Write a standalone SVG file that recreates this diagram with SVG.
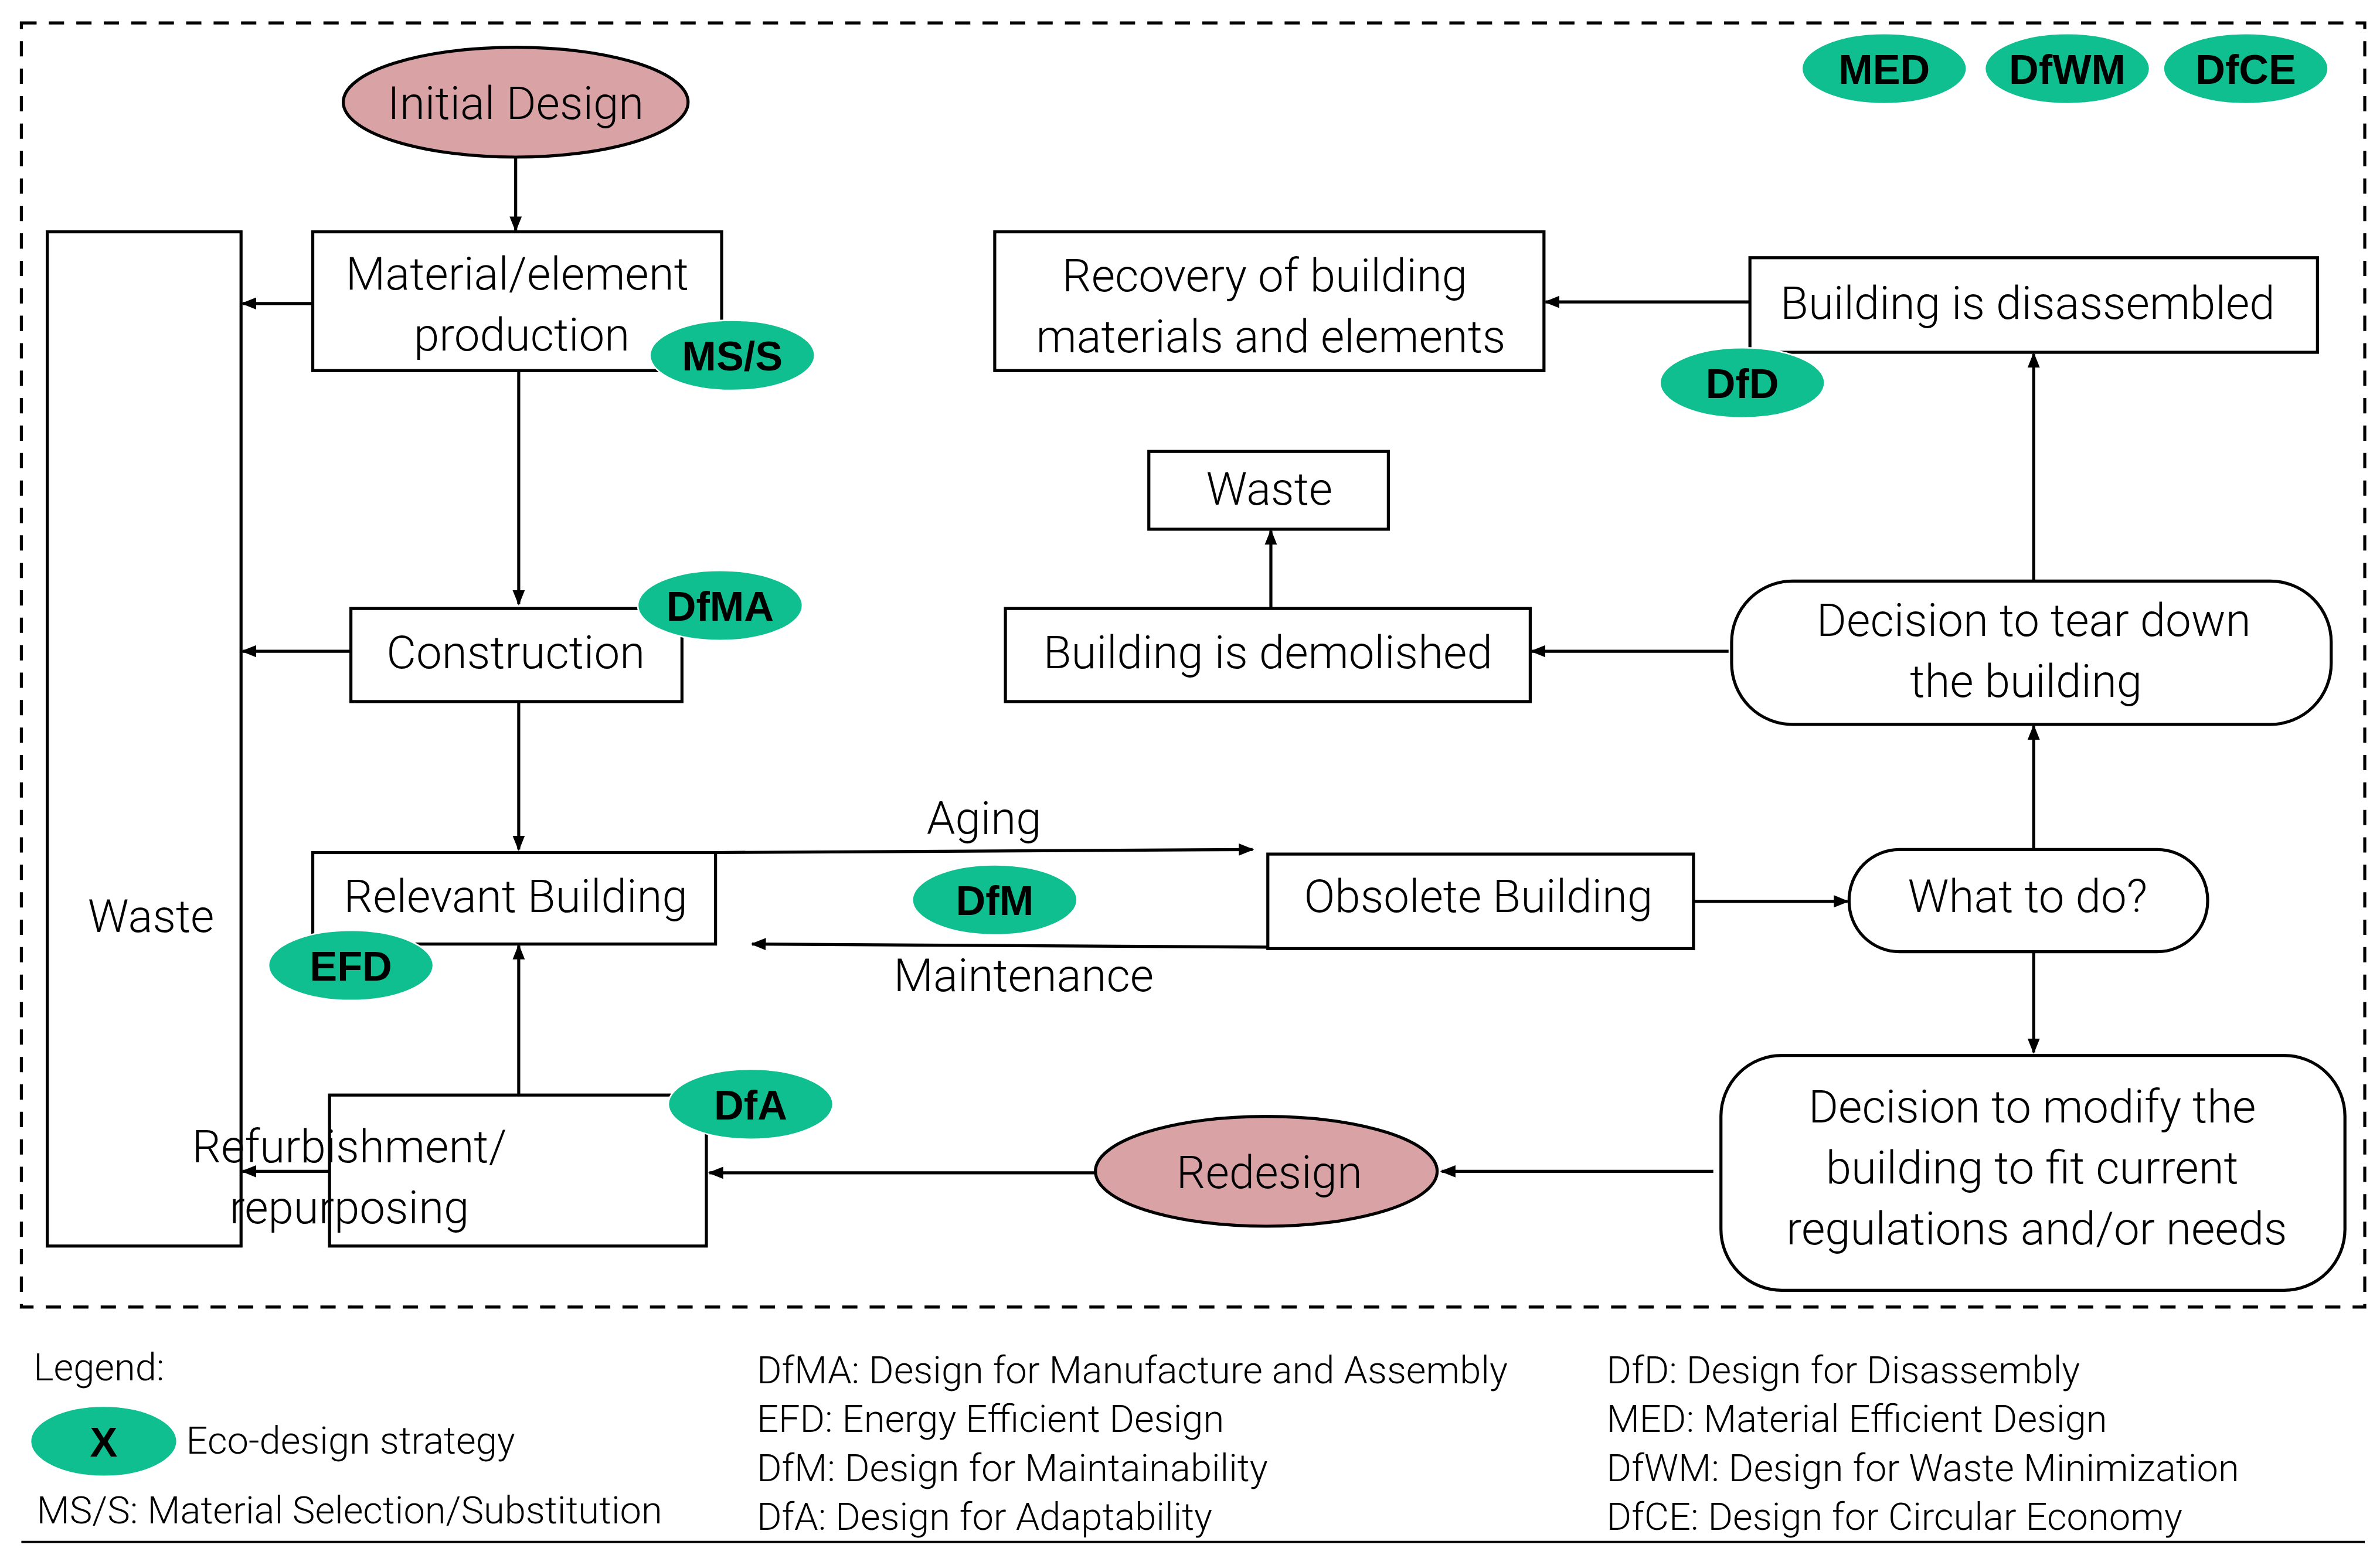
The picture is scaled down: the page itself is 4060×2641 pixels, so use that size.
<svg xmlns="http://www.w3.org/2000/svg" width="4060" height="2641" viewBox="0 0 4060 2641">
<defs>
<marker id="ah" markerWidth="10" markerHeight="10" refX="9" refY="5" orient="auto" markerUnits="userSpaceOnUse"><path d="M0,1 L10,5 L0,9 z" fill="#000"/></marker>
<style>
.b{fill:#fff;stroke:#000;stroke-width:2}
.t{font-family:Roboto,"Liberation Sans",sans-serif;font-size:30px;fill:#000;text-anchor:middle;font-weight:300}
.g{fill:#0fbf8f;stroke:#fff;stroke-width:1}
.gt{font-family:"Liberation Sans",Arial,sans-serif;font-weight:bold;font-size:27px;fill:#000;text-anchor:middle}
.p{fill:#d9a3a6;stroke:#000;stroke-width:2}
.l{font-family:Roboto,"Liberation Sans",sans-serif;font-size:25px;fill:#000;font-weight:300}
.c{stroke:#000;stroke-width:2;fill:none;marker-end:url(#ah)}
</style>
</defs>
<rect width="4060" height="2641" fill="#fff"/>
<g transform="scale(2.6026,2.602)">
<rect x="14" y="15" width="1536" height="842" fill="none" stroke="#000" stroke-width="2" stroke-dasharray="10,8"/>
<g id="initial"><ellipse class="p" cx="338" cy="67" rx="113" ry="36"/><text class="t" x="338" y="78">Initial Design</text></g>
<g id="material"><rect class="b" x="205" y="152" width="268" height="91"/><text class="t" x="339" y="190">Material/element</text><text class="t" x="342" y="230">production</text></g>
<g id="mss"><ellipse class="g" cx="480" cy="233" rx="54" ry="23"/><text class="gt" x="480" y="243">MS/S</text></g>
<g id="waste"><rect class="b" x="31" y="152" width="127" height="665"/><text class="t" x="99" y="611">Waste</text></g>
<g id="construction"><rect class="b" x="230" y="399" width="217" height="61"/><text class="t" x="338" y="438">Construction</text></g>
<g id="dfma"><ellipse class="g" cx="472" cy="397" rx="54" ry="23"/><text class="gt" x="472" y="407">DfMA</text></g>
<g id="relevant"><rect class="b" x="205" y="559" width="264" height="60"/><text class="t" x="338" y="598">Relevant Building</text></g>
<g id="efd"><ellipse class="g" cx="230" cy="633" rx="54" ry="23"/><text class="gt" x="230" y="643">EFD</text></g>
<g id="refurb"><rect class="b" x="216" y="718" width="247" height="99"/><text class="t" x="229" y="762" text-anchor="start">Refurbishment/</text><text class="t" x="229" y="802" text-anchor="start">repurposing</text></g>
<g id="dfa"><ellipse class="g" cx="492" cy="724" rx="54" ry="23"/><text class="gt" x="492" y="734">DfA</text></g>
<g id="redesign"><ellipse class="p" cx="830" cy="768" rx="112" ry="36"/><text class="t" x="832" y="779">Redesign</text></g>
<g id="modify"><rect class="b" x="1128" y="692" width="409" height="154" rx="40"/><text class="t" x="1332" y="736">Decision to modify the</text><text class="t" x="1332" y="776">building to fit current</text><text class="t" x="1335" y="816">regulations and/or needs</text></g>
<g id="whattodo"><rect class="b" x="1212" y="557" width="235" height="67" rx="33"/><text class="t" x="1329" y="598">What to do?</text></g>
<g id="obsolete"><rect class="b" x="831" y="560" width="279" height="62"/><text class="t" x="969" y="598">Obsolete Building</text></g>
<g id="dfm"><ellipse class="g" cx="652" cy="590" rx="54" ry="23"/><text class="gt" x="652" y="600">DfM</text></g>
<g id="teardown"><rect class="b" x="1135" y="381" width="393" height="94" rx="40"/><text class="t" x="1333" y="417">Decision to tear down</text><text class="t" x="1328" y="457">the building</text></g>
<g id="demolished"><rect class="b" x="659" y="399" width="344" height="61"/><text class="t" x="831" y="438">Building is demolished</text></g>
<g id="waste2"><rect class="b" x="753" y="296" width="157" height="51"/><text class="t" x="832" y="331">Waste</text></g>
<g id="disassembled"><rect class="b" x="1147" y="169" width="372" height="62"/><text class="t" x="1329" y="209">Building is disassembled</text></g>
<g id="dfd"><ellipse class="g" cx="1142" cy="251" rx="54" ry="23"/><text class="gt" x="1142" y="261">DfD</text></g>
<g id="recovery"><rect class="b" x="652" y="152" width="360" height="91"/><text class="t" x="829" y="191">Recovery of building</text><text class="t" x="833" y="231">materials and elements</text></g>
<g id="med"><ellipse class="g" cx="1235" cy="45" rx="54" ry="23"/><text class="gt" x="1235" y="55">MED</text></g>
<g id="dfwm"><ellipse class="g" cx="1355" cy="45" rx="54" ry="23"/><text class="gt" x="1355" y="55">DfWM</text></g>
<g id="dfce"><ellipse class="g" cx="1472" cy="45" rx="54" ry="23"/><text class="gt" x="1472" y="55">DfCE</text></g>
<g id="connectors">
<path class="c" d="M338,103 V151"/>
<path class="c" d="M340,243 V396"/>
<path class="c" d="M340,460 V557"/>
<path class="c" d="M340,718 V620"/>
<path class="c" d="M718,769 H465"/>
<path class="c" d="M1123,768 H945"/>
<path class="c" d="M205,199 H159"/>
<path class="c" d="M230,427 H159"/>
<path class="c" d="M216,768 H159"/>
<path class="c" d="M469,559 L821,557"/>
<path class="c" d="M831,621 L493,619"/>
<path class="c" d="M1110,591 H1211"/>
<path class="c" d="M1333,557 V476"/>
<path class="c" d="M1333,624 V690"/>
<path class="c" d="M1133,427 H1004"/>
<path class="c" d="M833,399 V348"/>
<path class="c" d="M1333,381 V232"/>
<path class="c" d="M1147,198 H1013"/>
</g>
<text class="t" x="645" y="547">Aging</text>
<text class="t" x="671" y="650">Maintenance</text>
<g id="legend">
<text class="l" x="22" y="905">Legend:</text>
<ellipse class="g" cx="68" cy="945" rx="48" ry="23"/><text class="gt" x="68" y="955">X</text>
<text class="l" x="122" y="953">Eco-design strategy</text>
<text class="l" x="24" y="999">MS/S: Material Selection/Substitution</text>
<text class="l" x="496" y="907">DfMA: Design for Manufacture and Assembly</text>
<text class="l" x="496" y="939">EFD: Energy Efficient Design</text>
<text class="l" x="496" y="971">DfM: Design for Maintainability</text>
<text class="l" x="496" y="1003">DfA: Design for Adaptability</text>
<text class="l" x="1053" y="907">DfD: Design for Disassembly</text>
<text class="l" x="1053" y="939">MED: Material Efficient Design</text>
<text class="l" x="1053" y="971">DfWM: Design for Waste Minimization</text>
<text class="l" x="1053" y="1003">DfCE: Design for Circular Economy</text>
<line x1="14" y1="1011" x2="1550" y2="1011" stroke="#000" stroke-width="1.5"/>
</g>
</g>
</svg>
